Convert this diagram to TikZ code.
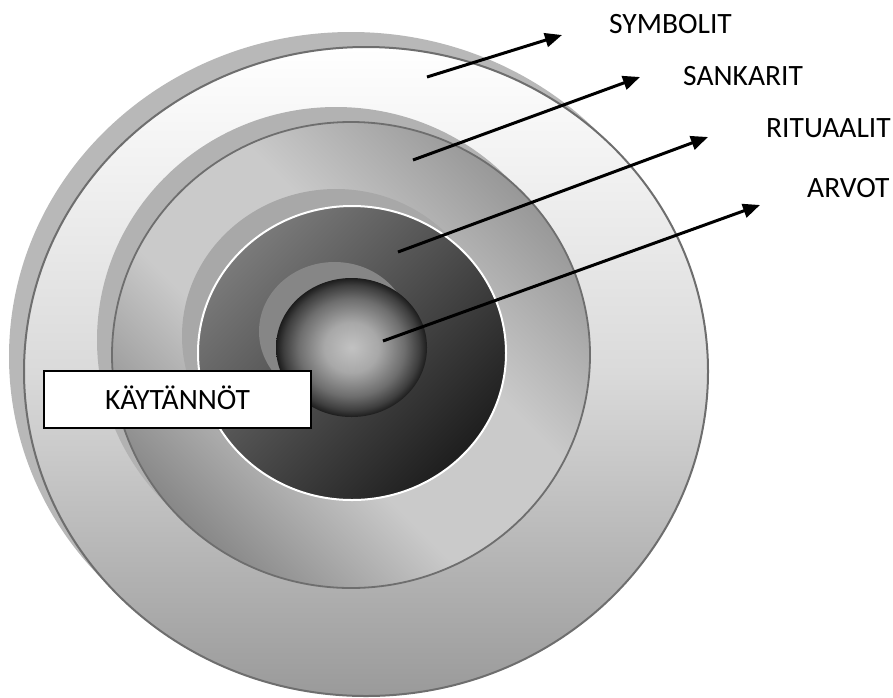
\documentclass[tikz,border=0pt]{standalone}
\usepackage{fontspec}
\setmainfont{Carlito}
\usetikzlibrary{arrows.meta}
\definecolor{outline}{RGB}{110,110,110}
\definecolor{shadowA}{RGB}{184,184,184}
\definecolor{shadowB}{RGB}{178,178,178}
\definecolor{shadowC}{RGB}{168,168,168}
\definecolor{shadowD}{RGB}{134,134,134}
\definecolor{ringAtop}{RGB}{255,255,255}
\definecolor{ringAmid}{RGB}{218,218,218}
\definecolor{ringAbot}{RGB}{154,154,154}
\definecolor{ringBdark}{RGB}{136,136,136}
\definecolor{ringBlight}{RGB}{202,202,202}
\definecolor{ringBmed}{RGB}{152,152,152}
\definecolor{ringCtop}{RGB}{122,122,122}
\definecolor{ringCbot}{RGB}{30,30,30}
\definecolor{ballin}{RGB}{194,194,194}
\definecolor{ballmid}{RGB}{168,168,168}
\definecolor{balldeep}{RGB}{110,110,110}
\definecolor{balledge}{RGB}{62,62,62}
\definecolor{ballout}{RGB}{28,28,28}
\pgfdeclareradialshading{ballshade}{\pgfpoint{0bp}{0bp}}{color(0bp)=(ballin); color(9bp)=(ballmid); color(17.5bp)=(balldeep); color(22.5bp)=(balledge); color(25bp)=(ballout); color(50bp)=(ballout)}
\pgfdeclarehorizontalshading{ringBshade}{100bp}{color(0bp)=(ringBdark); color(25bp)=(ringBdark); color(42bp)=(ringBlight); color(58bp)=(ringBlight); color(75bp)=(ringBmed); color(100bp)=(ringBmed)}
\tikzset{
  arr/.style={line width=3pt, draw=black, -{Triangle[length=17pt,width=14pt]}},
  lbl/.style={anchor=base west, inner sep=0pt, font=\fontsize{29.5}{34}\selectfont},
  box/.style={draw=black, line width=1.6pt, fill=white, minimum width=267pt, minimum height=57pt,
              text height=19pt, text depth=0pt, inner sep=0pt, font=\fontsize{29.5}{34}\selectfont},
}
\begin{document}
\begin{tikzpicture}[x=1pt,y=-1pt]
\useasboundingbox (0,0) rectangle (893,697);
% outer ring
\fill[shadowA] (351,356.5) ellipse [x radius=342, y radius=324.5];
\shade[top color=ringAtop, bottom color=ringAbot, middle color=ringAmid]
  (366,371.5) ellipse [x radius=342, y radius=324.5];
\draw[outline, line width=2pt] (366,371.5) ellipse [x radius=342, y radius=324.5];
% second ring
\fill[shadowB] (336,340) ellipse [x radius=239, y radius=233];
\shade[shading=ringBshade, shading angle=45]
  (351,355) ellipse [x radius=239, y radius=233];
\draw[outline, line width=1.8pt] (351,355) ellipse [x radius=239, y radius=233];
% third ring
\fill[shadowC] (336,336) ellipse [x radius=154, y radius=147];
\shade[top color=ringCtop, bottom color=ringCbot, shading angle=45]
  (352,353) ellipse [x radius=154, y radius=147];
\draw[white, line width=2pt] (352,353) ellipse [x radius=154, y radius=147];
% core ball
\fill[shadowD] (334.5,331.5) ellipse [x radius=75.5, y radius=69.5];
\shade[shading=ballshade]
  (351.5,347.5) ellipse [x radius=75.5, y radius=69.5];
% arrows
\coordinate (s1) at (427,77);  \coordinate (e1) at (562,35);
\coordinate (s2) at (413,160); \coordinate (e2) at (640,77);
\coordinate (s3) at (398,252); \coordinate (e3) at (708,137);
\coordinate (s4) at (383,341); \coordinate (e4) at (760,205);
\draw[arr] (s1) -- (e1);
\draw[arr] (s2) -- (e2);
\draw[arr] (s3) -- (e3);
\draw[arr] (s4) -- (e4);
% labels
\node[lbl] (symbolit) at (609,33) {SYMBOLIT};
\node[lbl] (sankarit) at (683,85) {SANKARIT};
\node[lbl] (rituaalit) at (766,137) {RITUAALIT};
\node[lbl] (arvot) at (807,197) {ARVOT};
\node[box] (kaytannot) at (177.5,399.5) {KÄYTÄNNÖT};
\end{tikzpicture}
\end{document}
